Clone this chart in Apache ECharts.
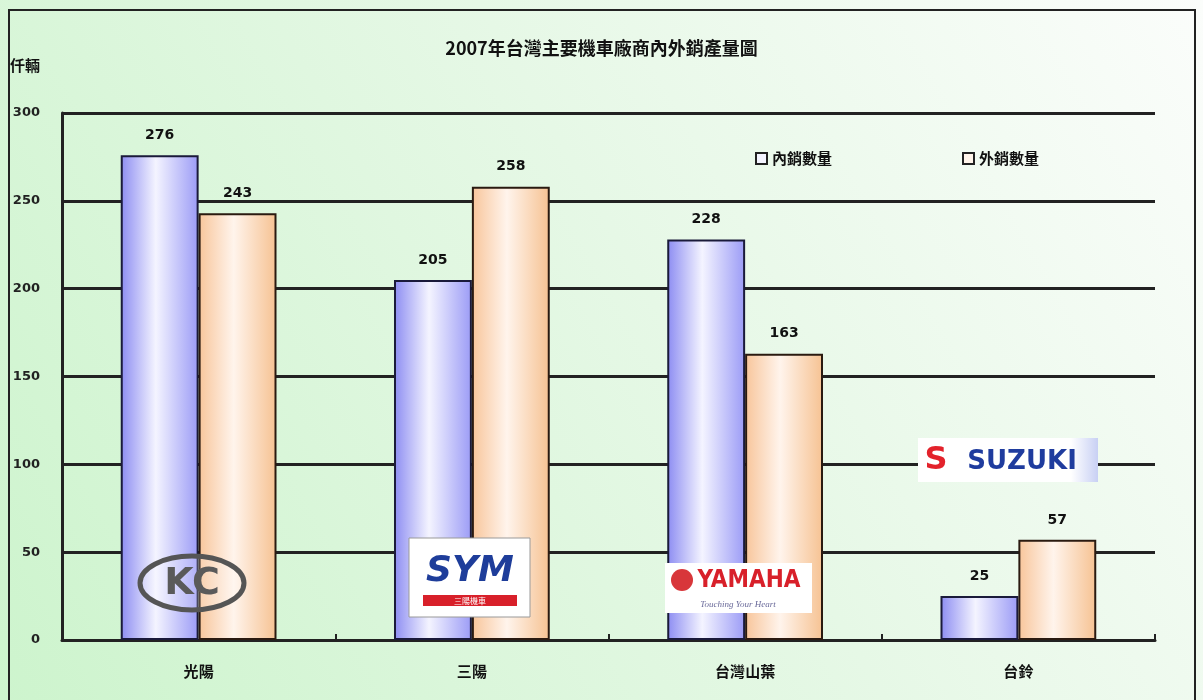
<!DOCTYPE html>
<html>
<head>
<meta charset="utf-8">
<script src="https://cdn.jsdelivr.net/npm/echarts@6/dist/echarts.min.js"></script>
<style>
  html, body { margin: 0; padding: 0; background: #fff; }
  #chart { width: 1203px; height: 700px; }
</style>
</head>
<body>
<div id="chart"></div>
<script>
const categories = ['光陽', '三陽', '台灣山葉', '台鈴']
const domesticSales = [276, 205, 228, 25]
const exportSales = [243, 258, 163, 57]
const seriesNames = ['內銷數量', '外銷數量']

const chart = echarts.init(document.getElementById('chart'))

// 柱子的横向渐变
function barGradient(edge, mid, edge2) {
  return new echarts.graphic.LinearGradient(0, 0, 1, 0, [
    { offset: 0, color: edge },
    { offset: 0.45, color: mid },
    { offset: 1, color: edge2 }
  ])
}

// logo 元素都放在柱子上面
function logo(children) {
  children.forEach(c => { c.z = 100; c.silent = true })
  return { type: 'group', children: children }
}

const labelStyle = {
  show: true,
  position: 'top',
  distance: 13,
  color: '#111',
  fontSize: 14,
  fontWeight: 'bold',
  fontFamily: 'DejaVu Sans'
}

chart.setOption({
  backgroundColor: new echarts.graphic.LinearGradient(0, 1, 1, 0, [
    { offset: 0, color: '#cdf4cd' },
    { offset: 0.55, color: '#e6f8e6' },
    { offset: 1, color: '#fbfdfb' }
  ]),
  title: {
    text: '2007年台灣主要機車廠商內外銷產量圖',
    left: 'center',
    top: 34,
    textStyle: { fontSize: 18, fontWeight: 'bold', color: '#111', fontFamily: 'Noto Sans CJK TC' }
  },
  legend: {
    data: [
      { name: seriesNames[0], itemStyle: { color: '#f4f4ff', borderColor: '#222', borderWidth: 2 } },
      { name: seriesNames[1], itemStyle: { color: '#fff4ea', borderColor: '#222', borderWidth: 2 } }
    ],
    left: 750,
    top: 146,
    icon: 'rect',
    itemWidth: 11,
    itemHeight: 11,
    itemGap: 130,
    textStyle: { fontSize: 15, fontWeight: 'bold', color: '#111', fontFamily: 'Noto Sans CJK TC' }
  },
  grid: { left: 62, right: 48, top: 113, bottom: 60 },
  xAxis: {
    type: 'category',
    data: categories,
    axisLine: { lineStyle: { color: '#222', width: 3 } },
    axisTick: { show: true, inside: true, length: 6, lineStyle: { color: '#222', width: 2 } },
    axisLabel: { margin: 24, fontSize: 15, fontWeight: 'bold', color: '#111', fontFamily: 'Noto Sans CJK TC' }
  },
  yAxis: {
    type: 'value',
    name: '仟輛',
    nameLocation: 'end',
    nameGap: 40,
    nameTextStyle: { align: 'left', padding: [0, 0, 0, -52], fontSize: 15, fontWeight: 'bold', color: '#111', fontFamily: 'Noto Sans CJK TC' },
    min: 0,
    max: 300,
    interval: 50,
    axisLine: { show: true, lineStyle: { color: '#222', width: 3 } },
    axisTick: { show: false },
    axisLabel: { margin: 22, fontSize: 13, fontWeight: 'bold', color: '#222', fontFamily: 'DejaVu Sans' },
    splitLine: { lineStyle: { color: '#222', width: 3 } }
  },
  graphic: [
    {
      type: 'rect', silent: true, z: 100,
      shape: { x: 9, y: 10, width: 1186, height: 700 },
      style: { fill: 'none', stroke: '#222', lineWidth: 2 }
    },
    // 光陽 logo
    logo([
      { type: 'ellipse', shape: { cx: 192, cy: 583, rx: 52, ry: 27 }, style: { fill: 'rgba(255,255,255,0.2)', stroke: '#555', lineWidth: 5 } },
      { type: 'text', style: { x: 192, y: 584, text: 'KC', align: 'center', verticalAlign: 'middle', fontSize: 38, fontWeight: 'bold', fill: '#5a5a5a', fontFamily: 'DejaVu Sans' } }
    ]),
    // 三陽 logo
    logo([
      { type: 'rect', shape: { x: 409, y: 538, width: 121, height: 79 }, style: { fill: '#fff', stroke: '#999', lineWidth: 1 } },
      { type: 'text', style: { x: 470, y: 572, text: 'SYM', align: 'center', verticalAlign: 'middle', fontSize: 36, fontWeight: 'bold', fontStyle: 'italic', fill: '#1e3d9a', fontFamily: 'DejaVu Sans' } },
      { type: 'rect', shape: { x: 423, y: 595, width: 94, height: 11 }, style: { fill: '#d8202a' } },
      { type: 'text', style: { x: 470, y: 601, text: '三陽機車', align: 'center', verticalAlign: 'middle', fontSize: 8, fill: '#fff', fontFamily: 'Noto Sans CJK TC' } }
    ]),
    // 山葉 logo
    logo([
      { type: 'rect', shape: { x: 665, y: 563, width: 147, height: 50 }, style: { fill: '#fff' } },
      { type: 'circle', shape: { cx: 682, cy: 580, r: 11 }, style: { fill: '#d8363a' } },
      { type: 'text', style: { x: 749, y: 581, text: 'YAMAHA', align: 'center', verticalAlign: 'middle', fontSize: 24, fontWeight: 'bold', fill: '#d8202a', fontFamily: 'DejaVu Sans Condensed, Liberation Sans, sans-serif' } },
      { type: 'text', style: { x: 738, y: 605, text: 'Touching Your Heart', align: 'center', verticalAlign: 'middle', fontSize: 9, fontStyle: 'italic', fill: '#6a6a9a', fontFamily: 'Liberation Serif' } }
    ]),
    // 台鈴 logo
    logo([
      { type: 'rect', shape: { x: 918, y: 438, width: 180, height: 44 },
        style: { fill: new echarts.graphic.LinearGradient(0, 0, 1, 0, [
          { offset: 0, color: '#ffffff' }, { offset: 0.85, color: '#ffffff' }, { offset: 1, color: '#c8d0f4' }
        ]) } },
      { type: 'text', style: { x: 936, y: 461, text: 'S', align: 'center', verticalAlign: 'middle', fontSize: 32, fontWeight: 'bold', fill: '#e3222b', fontFamily: 'DejaVu Sans' } },
      { type: 'text', style: { x: 1022, y: 462, text: 'SUZUKI', align: 'center', verticalAlign: 'middle', fontSize: 26, fontWeight: 'bold', fill: '#1f3c9e', fontFamily: 'DejaVu Sans' } }
    ])
  ],
  series: [
    {
      name: seriesNames[0],
      type: 'bar',
      data: domesticSales,
      barGap: '0%',
      barCategoryGap: '43%',
      itemStyle: {
        color: barGradient('#8c8cf2', '#f4f4ff', '#9b9bf6'),
        borderColor: '#1a1a3a',
        borderWidth: 2
      },
      label: labelStyle
    },
    {
      name: seriesNames[1],
      type: 'bar',
      data: exportSales,
      itemStyle: {
        color: barGradient('#f8c59a', '#fff4ec', '#f6c292'),
        borderColor: '#2a1a10',
        borderWidth: 2
      },
      label: labelStyle
    }
  ]
})
</script>
</body>
</html>
